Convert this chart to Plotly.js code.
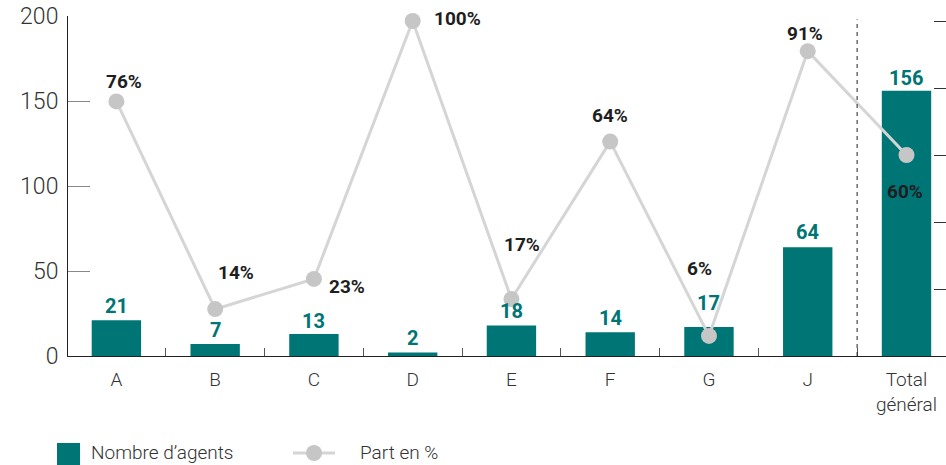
<!DOCTYPE html>
<html>
<head>
<meta charset="utf-8">
<script src="https://cdn.plot.ly/plotly-3.0.1.min.js"></script>
<style>html,body{margin:0;padding:0;background:#fff;}#chart{width:946px;height:465px;}</style>
</head>
<body>
<div id="chart"></div>
<script>
// ---- data ----
const categories = ['A', 'B', 'C', 'D', 'E', 'F', 'G', 'J', 'Total<br>général'];
const agents = [21, 7, 13, 2, 18, 14, 17, 64, 156];
const partPct = [76, 14, 23, 100, 17, 64, 6, 91, 60];
const leftTicks = [0, 50, 100, 150, 200];
const rightTicks = [0, 20, 40, 60, 80, 100];
const seriesNames = ['Nombre d’agents', 'Part en %'];

// ---- label placement (pixel offsets, style only) ----
const pctOffsets = [[7.5, 20], [21, 37], [33.5, -8], [44.5, 3], [10.5, 55], [0, 26], [-9, 67], [-3, 18], [-1, -36]];
const barLabelLift = [14, 14, 13, 14.5, 14, 14.5, 24.5, 15, 13];

const TEAL = '#007576';
const L = 68, R = 946, T = 16, B = 356;
const px = x => (x - L) / (R - L);
const py = y => (B - y) / (B - T);

const traces = [
  {
    type: 'bar', x: categories, y: agents, name: seriesNames[0],
    marker: {color: TEAL}, width: 0.5, hoverinfo: 'none', showlegend: false
  },
  {
    type: 'scatter', mode: 'lines+markers', x: categories, y: partPct, yaxis: 'y2',
    name: seriesNames[1], line: {color: '#d5d5d5', width: 3},
    marker: {color: '#c6c6c6', size: 16}, cliponaxis: false, hoverinfo: 'none', showlegend: false
  }
];

const annotations = [];
categories.forEach((c, i) => {
  annotations.push({
    x: c, y: agents[i], xref: 'x', yref: 'y', text: String(agents[i]), showarrow: false,
    xanchor: 'center', yanchor: 'middle', yshift: barLabelLift[i],
    font: {family: 'Roboto', size: 20, color: TEAL, weight: 700}
  });
  annotations.push({
    x: c, y: partPct[i], xref: 'x', yref: 'y2', text: partPct[i] + '%', showarrow: false,
    xanchor: 'center', yanchor: 'middle', xshift: pctOffsets[i][0], yshift: pctOffsets[i][1],
    font: {family: 'Roboto', size: 19, color: '#1e1e1e', weight: 700}
  });
});
// manual legend texts
annotations.push({xref: 'paper', yref: 'paper', x: px(89), y: py(453), xanchor: 'left', yanchor: 'middle',
  text: seriesNames[0], showarrow: false, font: {family: 'Roboto', size: 19, color: '#333', weight: 300}});
annotations.push({xref: 'paper', yref: 'paper', x: px(358), y: py(453), xanchor: 'left', yanchor: 'middle',
  text: seriesNames[1], showarrow: false, font: {family: 'Roboto', size: 19, color: '#333', weight: 300}});

const shapes = [
  {type: 'line', xref: 'x', yref: 'paper', x0: 7.5, x1: 7.5, y0: 0, y1: 0.99,
   line: {color: '#222', width: 1, dash: '4px,4px'}},
  {type: 'rect', xref: 'paper', yref: 'paper', x0: px(57), x1: px(80), y0: py(443), y1: py(466),
   fillcolor: TEAL, line: {width: 0}},
  {type: 'line', xref: 'paper', yref: 'paper', x0: px(293), x1: px(335), y0: py(453), y1: py(453),
   line: {color: '#d5d5d5', width: 3}},
  {type: 'circle', xref: 'paper', yref: 'paper', x0: px(306), x1: px(322), y0: py(445), y1: py(461),
   fillcolor: '#c6c6c6', line: {width: 0}}
];

const layout = {
  width: 946, height: 465, autosize: false,
  margin: {l: L, r: 946 - R, t: T, b: 465 - B, pad: 0},
  paper_bgcolor: '#fff', plot_bgcolor: '#fff',
  showlegend: false,
  font: {family: 'Roboto', color: '#333'},
  xaxis: {
    type: 'category', range: [-0.49, 8.4], tickson: 'boundaries', ticks: 'inside', ticklen: 8,
    tickcolor: '#555', tickwidth: 1, showline: true, linecolor: '#222', linewidth: 1,
    showgrid: false, zeroline: false, fixedrange: true, ticklabelstandoff: 6,
    tickfont: {family: 'Roboto', size: 19, color: '#333', weight: 300}
  },
  yaxis: {
    range: [0, 200], tickvals: leftTicks, ticks: 'inside', ticklen: 22, tickcolor: '#888', tickwidth: 1,
    showline: true, linecolor: '#222', linewidth: 1, showgrid: false, zeroline: false,
    ticklabelstandoff: 4,
    tickfont: {family: 'Roboto', size: 23, color: '#333', weight: 300}, fixedrange: true
  },
  yaxis2: {
    overlaying: 'y', side: 'right', range: [0, 101.5], tickvals: rightTicks, ticks: 'inside', ticklen: 12,
    tickcolor: '#333', tickwidth: 1, showticklabels: false, showline: false, showgrid: false,
    zeroline: false, fixedrange: true
  },
  annotations: annotations,
  shapes: shapes
};

Plotly.newPlot('chart', traces, layout, {displayModeBar: false, staticPlot: true});
</script>
</body>
</html>
